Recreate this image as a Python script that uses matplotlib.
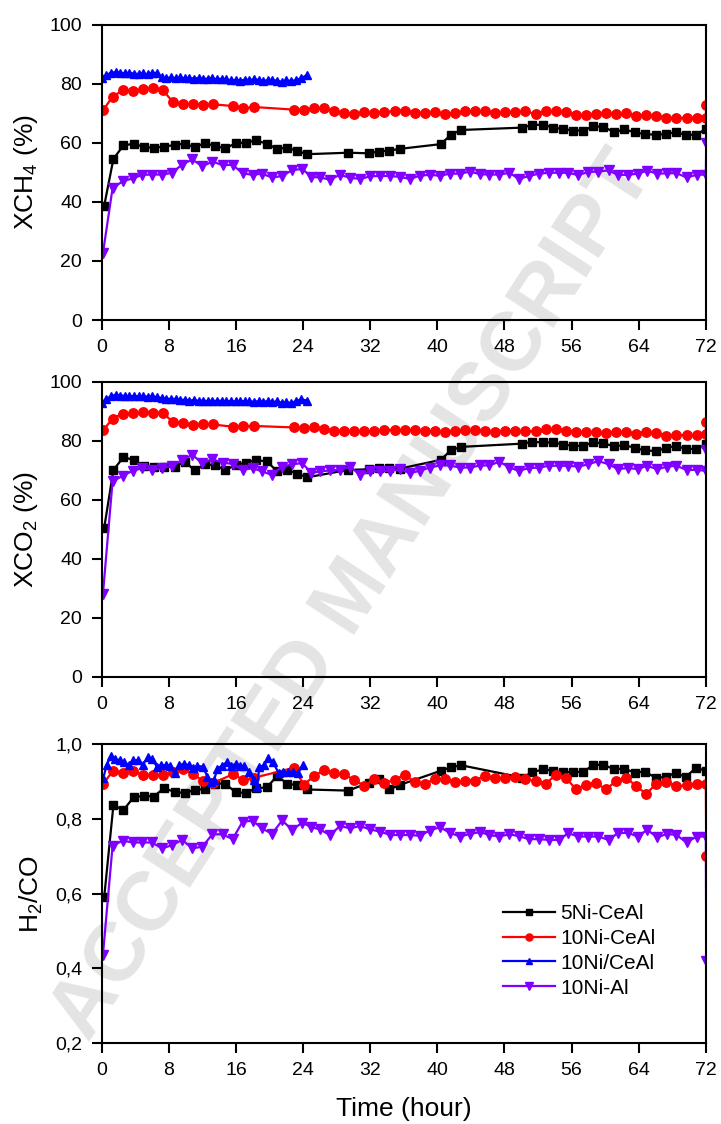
import matplotlib
matplotlib.use("Agg")
import matplotlib.pyplot as plt
from matplotlib.ticker import FuncFormatter

plt.rcParams["font.family"] = ["Liberation Sans", "DejaVu Sans"]
plt.rcParams["mathtext.fontset"] = "custom"
plt.rcParams["mathtext.rm"] = "Liberation Sans"
plt.rcParams["mathtext.it"] = "Liberation Sans:italic"
plt.rcParams["mathtext.default"] = "regular"

labels = ["5Ni-CeAl", "10Ni-CeAl", "10Ni/CeAl", "10Ni-Al"]
colors = ["#000000", "#FF0000", "#0000FF", "#8000FF"]
markers = ["s", "o", "^", "v"]

# time on stream (h) per catalyst
t_black = [0.3, 1.4, 2.6, 3.8, 5.0, 6.2, 7.4, 8.7, 9.9, 11.1, 12.3, 13.5, 14.7, 16.0, 17.2,
           18.4, 19.7, 20.9, 22.1, 23.3, 24.5, 29.4, 31.8, 33.0, 34.3, 35.5, 40.4, 41.6, 42.8,
           50.1, 51.3, 52.6, 53.8, 55.0, 56.2, 57.4, 58.6, 59.8, 61.1, 62.3, 63.5, 64.7, 66.0,
           67.2, 68.4, 69.6, 70.8, 72.0]
t_red = [0.2, 1.3, 2.5, 3.7, 4.9, 6.1, 7.3, 8.5, 9.7, 10.9, 12.1, 13.3, 15.7, 16.9, 18.1,
         22.9, 24.1, 25.3, 26.5, 27.7, 28.9, 30.1, 31.3, 32.5, 33.7, 34.9, 36.1, 37.3, 38.5,
         39.7, 40.9, 42.1, 43.3, 44.5, 45.7, 46.9, 48.1, 49.3, 50.5, 51.7, 52.9, 54.1, 55.3,
         56.5, 57.7, 58.9, 60.1, 61.3, 62.5, 63.7, 64.9, 66.1, 67.3, 68.5, 69.7, 70.9, 72.0]
t_blue = [0.0, 0.55, 1.1, 1.65, 2.2, 2.75, 3.3, 3.85, 4.4, 4.95, 5.5, 6.05, 6.6, 7.15, 7.7,
          8.25, 8.8, 9.35, 9.9, 10.45, 11.0, 11.55, 12.1, 12.65, 13.2, 13.75, 14.3, 14.85,
          15.4, 15.95, 16.5, 17.05, 17.6, 18.15, 18.7, 19.25, 19.8, 20.35, 20.9, 21.45, 22.0,
          22.6, 23.2, 23.8, 24.5]
t_blue_h2co = [0.2, 0.6, 1.1, 1.6, 2.2, 2.7, 3.2, 3.7, 4.3, 4.9, 5.5, 6.0, 6.6, 7.1, 7.7,
               8.1, 8.7, 9.2, 9.85, 10.4, 10.9, 11.4, 12.1, 12.6, 13.0, 13.4, 13.8, 14.3,
               14.9, 15.4, 16.0, 16.5, 17.0, 17.6, 18.1, 18.5, 18.8, 19.4, 19.8, 20.4, 21.1,
               21.6, 22.2, 22.8, 23.4, 24.0]
t_purple = [0.15, 1.3, 2.5, 3.7, 4.85, 6.0, 7.2, 8.4, 9.6, 10.8, 12.0, 13.2, 14.4, 15.6, 16.8,
            18.0, 19.1, 20.3, 21.5, 22.7, 23.9, 25.0, 26.0, 27.2, 28.4, 29.6, 30.8, 32.0, 33.2,
            34.4, 35.6, 36.7, 37.9, 39.1, 40.3, 41.5, 42.7, 43.9, 45.1, 46.2, 47.4, 48.6, 49.7,
            50.9, 52.1, 53.3, 54.5, 55.6, 56.8, 58.0, 59.2, 60.4, 61.5, 62.7, 63.9, 65.0, 66.2,
            67.4, 68.5, 69.7, 70.9, 72.0]

# CH4 conversion (%)
xch4_black = [38.7, 54.6, 59.2, 59.7, 58.7, 58.3, 58.8, 59.3, 59.8, 58.5, 60.0, 59.0, 58.2, 59.9,
              60.1, 60.9, 59.7, 58.0, 58.4, 57.3, 56.2, 56.7, 56.5, 57.1, 57.4, 58.0, 59.6, 62.7,
              64.4, 65.2, 66.1, 66.2, 65.2, 64.7, 64.2, 64.2, 65.7, 65.4, 63.7, 64.6, 63.6, 63.0,
              62.8, 63.0, 63.7, 62.7, 62.8, 64.7]
xch4_red = [71.2, 75.7, 77.8, 77.5, 78.3, 78.5, 77.8, 73.9, 73.1, 73.1, 72.8, 73.1, 72.5, 71.7,
            72.2, 71.3, 71.2, 71.7, 71.9, 70.7, 70.3, 69.9, 70.4, 70.1, 70.4, 70.9, 71.0, 70.2,
            70.2, 70.4, 69.8, 70.2, 70.7, 70.7, 70.7, 70.2, 70.4, 70.4, 70.7, 69.8, 70.9, 70.7,
            70.4, 69.6, 69.4, 69.8, 70.0, 69.8, 70.0, 69.1, 69.6, 69.1, 68.3, 68.5, 68.5, 68.5,
            68.5]
xch4_blue = [82.0, 83.0, 83.8, 84.0, 83.8, 83.6, 83.8, 83.5, 83.4, 83.6, 83.3, 83.8, 83.7, 82.3,
             82.0, 82.2, 82.0, 82.2, 81.9, 82.1, 81.8, 82.0, 81.7, 81.8, 81.9, 81.6, 81.8, 81.6,
             81.2, 81.4, 81.0, 81.5, 81.3, 81.6, 81.4, 81.0, 81.3, 81.5, 81.0, 80.8, 81.2, 81.0,
             81.3, 82.0, 83.1]
xch4_purple = [22.6, 44.7, 47.0, 48.0, 49.2, 49.3, 49.3, 49.9, 52.7, 54.4, 52.1, 53.7, 52.5, 52.6,
               49.7, 49.2, 49.6, 48.3, 48.8, 50.8, 51.2, 48.5, 48.3, 47.6, 49.2, 48.2, 47.8, 48.7,
               48.8, 48.8, 48.5, 47.8, 48.9, 49.2, 48.9, 49.6, 49.6, 50.3, 49.4, 49.3, 49.3, 49.9,
               47.8, 48.8, 49.6, 49.9, 49.9, 49.9, 49.1, 50.2, 50.3, 50.7, 49.2, 49.2, 49.6, 50.6,
               49.6, 49.7, 49.8, 48.3, 49.2, 49.3]

# CO2 conversion (%)
xco2_black = [50.4, 70.1, 74.4, 73.5, 71.5, 71.2, 71.2, 71.2, 72.9, 69.9, 72.0, 71.7, 70.1, 71.7,
              72.6, 73.4, 73.0, 69.6, 70.1, 68.8, 67.6, 70.1, 70.3, 70.8, 70.9, 70.5, 73.5, 76.7,
              77.9, 79.0, 79.6, 79.4, 79.4, 78.7, 78.2, 78.3, 79.4, 79.1, 78.1, 78.5, 77.6, 76.7,
              76.5, 77.4, 78.3, 77.2, 77.2, 78.8]
xco2_red = [83.6, 87.5, 89.2, 89.4, 89.8, 89.4, 89.4, 86.3, 85.9, 85.3, 85.5, 85.5, 84.7, 85.0,
            85.0, 84.5, 84.3, 84.5, 83.9, 83.4, 83.3, 83.3, 83.3, 83.3, 83.7, 83.6, 83.6, 83.6,
            83.4, 83.2, 83.0, 83.4, 83.7, 83.5, 83.4, 82.9, 83.4, 83.2, 83.2, 83.2, 83.8, 83.9,
            83.4, 82.9, 82.9, 82.9, 82.7, 82.9, 82.9, 82.4, 82.9, 82.5, 81.7, 82.0, 81.8, 82.0,
            82.4]
xco2_blue = [92.8, 94.2, 95.0, 95.6, 95.3, 95.2, 95.0, 95.2, 95.0, 95.1, 94.9, 95.0, 94.8, 94.4,
             94.3, 94.1, 94.2, 93.8, 93.9, 93.6, 93.8, 93.5, 93.6, 93.4, 93.6, 93.4, 93.6, 93.3,
             93.5, 93.3, 93.5, 93.3, 93.4, 93.2, 93.4, 93.2, 93.4, 93.1, 93.3, 92.9, 93.0, 92.8,
             93.5, 94.0, 93.6]
xco2_purple = [28.0, 66.2, 68.1, 69.8, 70.7, 70.1, 70.7, 71.5, 73.5, 75.2, 72.4, 73.7, 72.6, 72.1,
               70.1, 70.7, 69.6, 68.4, 71.2, 72.0, 72.4, 69.0, 69.6, 69.9, 70.1, 71.2, 68.4, 69.6,
               69.6, 69.8, 70.3, 69.0, 69.8, 70.9, 71.6, 71.6, 70.9, 70.9, 71.6, 71.6, 72.9, 70.9,
               69.8, 70.7, 70.9, 71.5, 71.5, 71.5, 71.2, 72.0, 73.1, 72.0, 70.4, 70.7, 70.4, 71.5,
               70.3, 71.2, 71.5, 70.1, 70.1, 69.8]

# H2/CO ratio
h2co_black = [0.59, 0.837, 0.824, 0.858, 0.862, 0.860, 0.882, 0.873, 0.869, 0.878, 0.880, 0.895,
              0.895, 0.871, 0.870, 0.882, 0.885, 0.915, 0.895, 0.890, 0.879, 0.876, 0.897, 0.906,
              0.879, 0.891, 0.929, 0.938, 0.944, 0.911, 0.925, 0.933, 0.929, 0.926, 0.926, 0.926,
              0.945, 0.945, 0.933, 0.935, 0.924, 0.927, 0.911, 0.912, 0.924, 0.912, 0.937, 0.929]
h2co_red = [0.894, 0.928, 0.924, 0.928, 0.919, 0.917, 0.917, 0.925, 0.933, 0.921, 0.901, 0.897,
            0.920, 0.904, 0.910, 0.937, 0.892, 0.915, 0.931, 0.924, 0.920, 0.904, 0.889, 0.907,
            0.896, 0.905, 0.918, 0.900, 0.895, 0.906, 0.906, 0.899, 0.903, 0.903, 0.916, 0.909,
            0.909, 0.913, 0.906, 0.902, 0.893, 0.919, 0.911, 0.880, 0.891, 0.897, 0.879, 0.902,
            0.911, 0.888, 0.867, 0.895, 0.900, 0.887, 0.891, 0.893, 0.893]
h2co_blue = [0.910, 0.945, 0.968, 0.960, 0.958, 0.952, 0.944, 0.957, 0.957, 0.945, 0.966, 0.960,
             0.940, 0.944, 0.944, 0.942, 0.922, 0.944, 0.948, 0.944, 0.937, 0.942, 0.940, 0.912,
             0.900, 0.905, 0.935, 0.942, 0.952, 0.942, 0.948, 0.942, 0.942, 0.926, 0.905, 0.885,
             0.940, 0.944, 0.963, 0.952, 0.923, 0.925, 0.925, 0.927, 0.923, 0.945]
h2co_purple = [0.436, 0.728, 0.742, 0.737, 0.737, 0.737, 0.721, 0.730, 0.744, 0.721, 0.726, 0.759,
               0.759, 0.746, 0.793, 0.795, 0.775, 0.760, 0.796, 0.771, 0.790, 0.778, 0.772, 0.757,
               0.781, 0.775, 0.781, 0.772, 0.766, 0.757, 0.757, 0.757, 0.755, 0.769, 0.778, 0.763,
               0.753, 0.760, 0.765, 0.757, 0.753, 0.759, 0.754, 0.746, 0.746, 0.744, 0.744, 0.762,
               0.753, 0.753, 0.753, 0.744, 0.762, 0.763, 0.753, 0.771, 0.751, 0.760, 0.757, 0.737,
               0.753, 0.753]

# values logged right at the end of the run (the vertical tail at 72 h)
end_red = [72.9, 86.5, 0.70]
end_purple = [60.0, 77.0, 0.42]

panels = [
    ("XCH$_4$ (%)", [xch4_black, xch4_red, xch4_blue, xch4_purple], (0, 100), [0, 20, 40, 60, 80, 100]),
    ("XCO$_2$ (%)", [xco2_black, xco2_red, xco2_blue, xco2_purple], (0, 100), [0, 20, 40, 60, 80, 100]),
    ("H$_2$/CO", [h2co_black, h2co_red, h2co_blue, h2co_purple], (0.2, 1.0), [0.2, 0.4, 0.6, 0.8, 1.0]),
]
xticks = [0, 8, 16, 24, 32, 40, 48, 56, 64, 72]

fig = plt.figure(figsize=(7.21, 11.24), dpi=100)

# faint watermark, drawn behind the axes
fig.text(0.49, 0.47, "ACCEPTED MANUSCRIPT", rotation=57, fontsize=60, fontweight="bold",
         color="#E4E4E4", ha="center", va="center", zorder=-1)

boxes = [[0.141, 0.7153, 0.838, 0.2625],
         [0.141, 0.3980, 0.838, 0.2624],
         [0.141, 0.0721, 0.838, 0.2657]]

for i, (ylabel, series, ylim, yticks) in enumerate(panels):
    ax = fig.add_axes(boxes[i])
    ax.patch.set_alpha(0)
    times = [t_black, t_red, t_blue_h2co if i == 2 else t_blue, t_purple]
    ms = [6.3, 6.8, 5.8, 6.8]
    for k in range(4):
        tt = list(times[k])
        yy = list(series[k])
        if k == 1:
            tt = tt + [72.05]
            yy = yy + [end_red[i]]
        if k == 3:
            tt = tt + [72.05]
            yy = yy + [end_purple[i]]
        ax.plot(tt, yy, color=colors[k], marker=markers[k], ms=ms[k], lw=1.6,
                mec=colors[k], label=labels[k])
    ax.set_xlim(0, 72)
    ax.set_ylim(*ylim)
    ax.set_xticks(xticks)
    ax.set_yticks(yticks)
    ax.set_ylabel(ylabel, fontsize=19, labelpad=7)
    ax.tick_params(direction="out", length=7, width=1.5, labelsize=14, pad=7)
    for s in ax.spines.values():
        s.set_linewidth(1.5)
    if i == 2:
        ax.yaxis.set_major_formatter(FuncFormatter(lambda v, p: f"{v:.1f}".replace(".", ",")))
        ax.set_xlabel("Time (hour)", fontsize=19, labelpad=13)
        ax.legend(loc="upper left", bbox_to_anchor=(0.664, 0.465), frameon=False, fontsize=15,
                  numpoints=1, handlelength=2.5, handletextpad=0.25, labelspacing=0.28,
                  borderpad=0, borderaxespad=0, markerscale=0.75)

fig.savefig("out.png", dpi=100)
